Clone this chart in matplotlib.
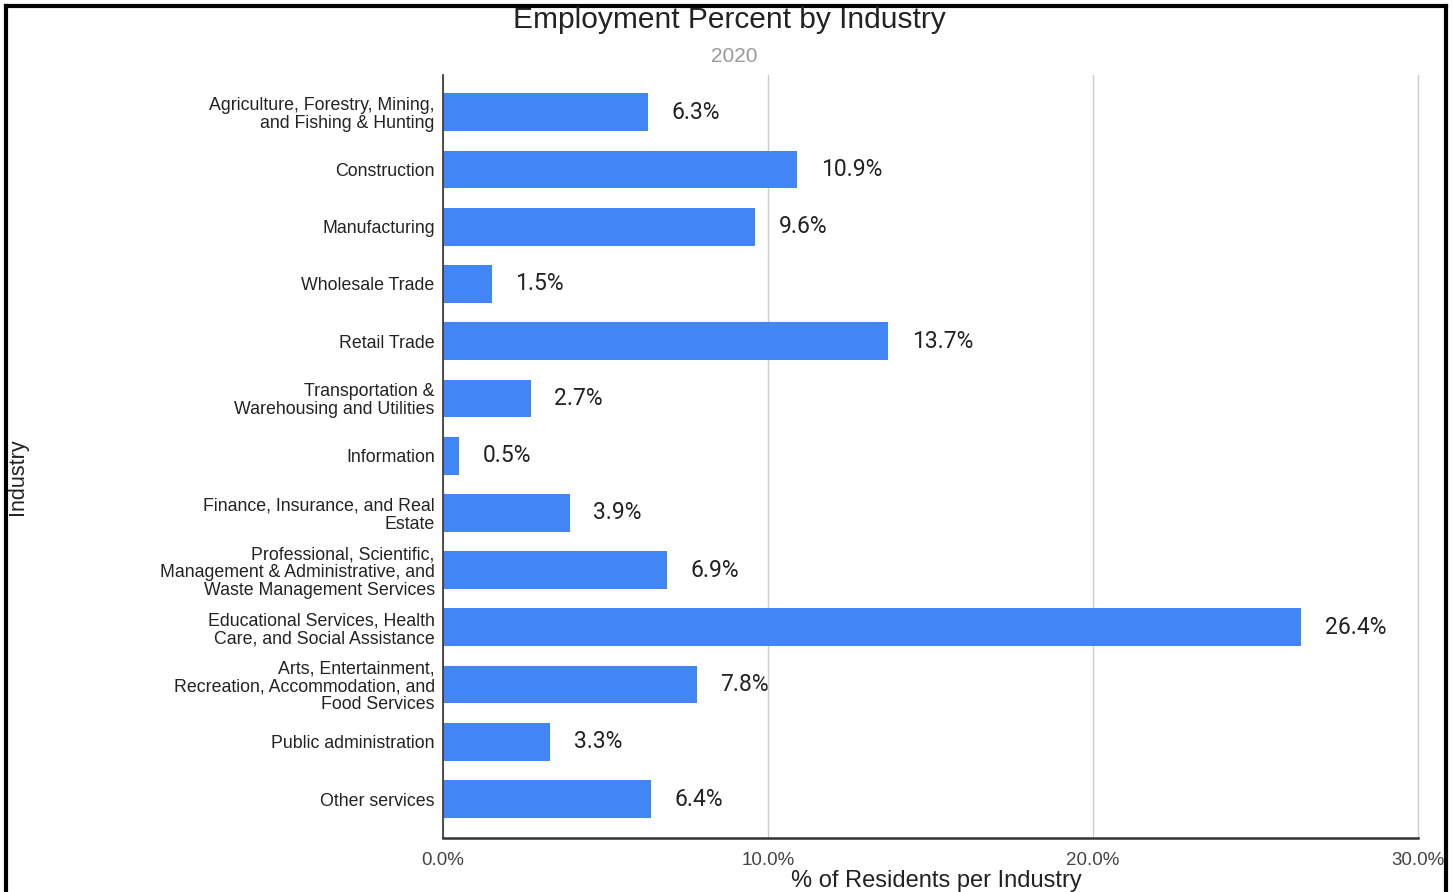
import matplotlib.pyplot as plt
from matplotlib.lines import Line2D
from matplotlib.ticker import FuncFormatter

industries = [
    "Agriculture, Forestry, Mining,\nand Fishing & Hunting",
    "Construction",
    "Manufacturing",
    "Wholesale Trade",
    "Retail Trade",
    "Transportation &\nWarehousing and Utilities",
    "Information",
    "Finance, Insurance, and Real\nEstate",
    "Professional, Scientific,\nManagement & Administrative, and\nWaste Management Services",
    "Educational Services, Health\nCare, and Social Assistance",
    "Arts, Entertainment,\nRecreation, Accommodation, and\nFood Services",
    "Public administration",
    "Other services",
]
percents = [6.3, 10.9, 9.6, 1.5, 13.7, 2.7, 0.5, 3.9, 6.9, 26.4, 7.8, 3.3, 6.4]
x_ticks = [0, 10, 20, 30]

plt.rcParams['font.family'] = ['Liberation Sans', 'DejaVu Sans']

fig = plt.figure(figsize=(14.53, 8.92), dpi=100)
ax = fig.add_axes([443 / 1453, 1 - 838 / 892, 975 / 1453, 763 / 892])

pos = list(range(len(industries)))
ax.barh(pos, percents, height=0.66, color='#4285F4', zorder=3)
for p, v in zip(pos, percents):
    ax.text(v + 0.73, p, f"{v:.1f}%", va='center', ha='left',
            fontsize=16.5, color='#222222', family=['Roboto', 'DejaVu Sans'])

ax.set_xlim(0, 30)
ax.set_ylim(12.68, -0.65)
ax.set_yticks(pos)
ax.set_yticklabels(industries, fontsize=12.8, color='#222222', linespacing=1.06)
ax.set_xticks(x_ticks)
ax.xaxis.set_major_formatter(FuncFormatter(lambda v, _: f"{v:.1f}%"))
ax.tick_params(axis='x', labelsize=13.5, labelcolor='#444444', length=0, pad=10)
ax.tick_params(axis='y', length=0, pad=6)
ax.grid(axis='x', color='#cccccc', linewidth=1, zorder=0)
for gl in ax.get_xgridlines():
    gl.set_clip_on(False)

for side in ['top', 'right']:
    ax.spines[side].set_visible(False)
ax.spines['left'].set_color('#333333')
ax.spines['left'].set_linewidth(1.2)
ax.spines['bottom'].set_color('#333333')
ax.spines['bottom'].set_linewidth(1.8)
ax.spines['left'].set_zorder(4)

fig.text(729 / 1453, 1 - 20 / 892, "Employment Percent by Industry",
         ha='center', va='center', fontsize=21.5, color='#222222')
fig.text(734 / 1453, 1 - 57 / 892, "2020",
         ha='center', va='center', fontsize=15, color='#999999')
fig.text(936 / 1453, 1 - 881 / 892, "% of Residents per Industry",
         ha='center', va='center', fontsize=17, color='#222222')
fig.text(18 / 1453, 1 - 477 / 892, "Industry", rotation=90,
         ha='center', va='center', fontsize=15.5, color='#222222')

# frame around the chart (open at the bottom)
W, H = 1453, 892
for xs, ys in [([5.5, 5.5], [0, H - 5.5]),
               ([5.5, W - 7.5], [H - 5.5, H - 5.5]),
               ([W - 7.5, W - 7.5], [H - 5.5, 0])]:
    fig.add_artist(Line2D([x / W for x in xs], [y / H for y in ys],
                          color='black', linewidth=3, solid_capstyle='projecting'))

fig.savefig('out.png', dpi=100, facecolor='white')
